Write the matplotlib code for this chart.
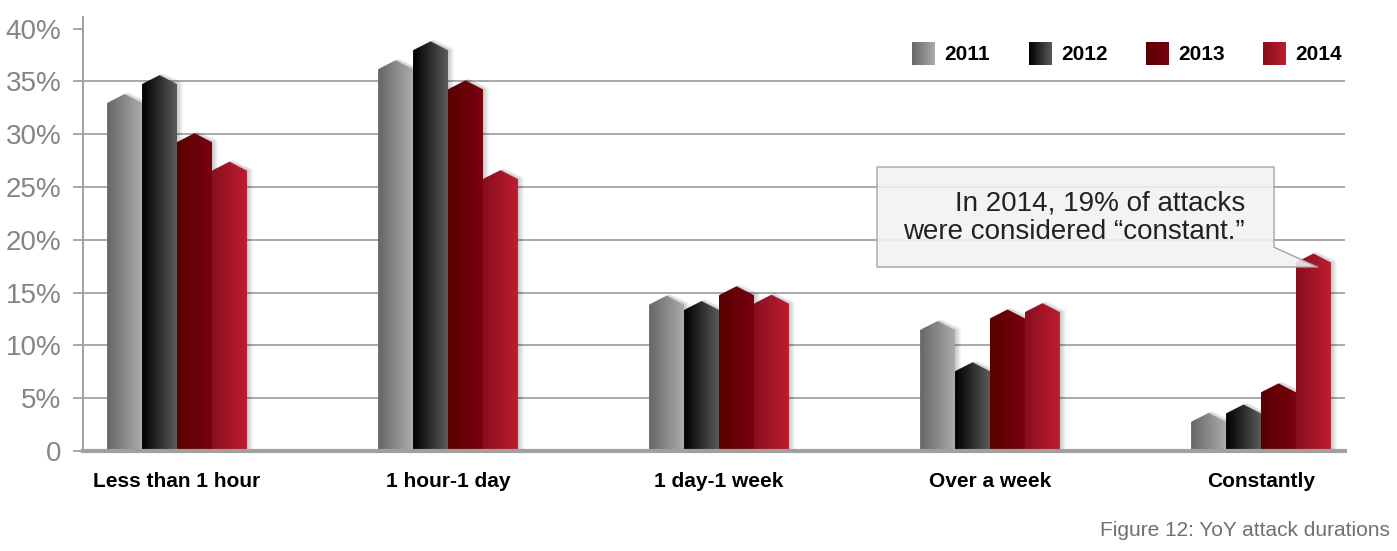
import numpy as np
import matplotlib.pyplot as plt
import matplotlib.colors as mcolors
from matplotlib.patches import Polygon

# values (bar peaks, in %)
categories = ['Less than 1 hour', '1 hour-1 day', '1 day-1 week', 'Over a week', 'Constantly']
years = ['2011', '2012', '2013', '2014']
pct_2011 = [33.8, 37.0, 14.7, 12.3, 3.6]
pct_2012 = [35.6, 38.8, 14.2, 8.4, 4.4]
pct_2013 = [30.1, 35.1, 15.6, 13.4, 6.4]
pct_2014 = [27.4, 26.6, 14.8, 14.0, 18.7]
yticks = [0, 5, 10, 15, 20, 25, 30, 35, 40]
ytick_labels = ['0', '5%', '10%', '15%', '20%', '25%', '30%', '35%', '40%']

series = [pct_2011, pct_2012, pct_2013, pct_2014]
# left -> right colour of each bar's gradient
grad_colors = [('#666666', '#ababab'),
               ('#000000', '#5a5a5a'),
               ('#580000', '#7a0010'),
               ('#880f1f', '#be1d2d')]

plt.rcParams['font.family'] = ['Liberation Sans', 'DejaVu Sans']


def gradient(c0, c1, n=64):
    a = np.array(mcolors.to_rgb(c0))
    b = np.array(mcolors.to_rgb(c1))
    t = np.linspace(0, 1, n)[:, None]
    return (a + (b - a) * t)[None, :, :]


fig = plt.figure(figsize=(13.97, 5.51), dpi=100)
ax = fig.add_axes([0.0594, 0.1815, 0.9034, 0.7875])

w = 0.129      # bar width (group spacing = 1)
cap = 0.85     # height of the pointed top
px = 1 / 271.0  # one pixel in x data units
py = 1 / 10.56  # one pixel in y data units

for j, vals in enumerate(series):
    img = gradient(*grad_colors[j])
    for i, v in enumerate(vals):
        c = i + (j - 1.5) * w
        l, r = c - w / 2, c + w / 2
        s = v - cap
        pts = [(l, 0), (l, s), (c, v), (r, s), (r, 0)]
        # soft shadow, mostly to the right
        for k in range(1, 7):
            e = k * px
            sh = [(l + e * 0.3, 0), (l + e * 0.3, s + k * py * 0.3), (c + e * 0.6, v + k * py * 0.3),
                  (r + e, s + k * py * 0.3), (r + e, 0)]
            ax.add_patch(Polygon(sh, closed=True, facecolor='black', edgecolor='none',
                                 alpha=0.035, zorder=2))
        poly = Polygon(pts, closed=True, transform=ax.transData)
        im = ax.imshow(img, extent=(l, r, 0, v), aspect='auto', interpolation='bilinear',
                       zorder=3)
        im.set_clip_path(poly)

# callout
bx0, bx1, by0, by1 = 2.583, 4.048, 17.42, 26.9
tip_x, tail_y = 4.21, 19.3
callout = Polygon([(bx0, by0), (tip_x, by0), (bx1, tail_y), (bx1, by1), (bx0, by1)],
                  closed=True, facecolor='#f2f2f2', edgecolor='#9a9a9a', lw=1.0,
                  alpha=0.88, zorder=5)
ax.add_patch(callout)
ax.text(3.941, 22.1, 'In 2014, 19% of attacks\nwere considered \u201cconstant.\u201d',
        ha='right', va='center', fontsize=20, color='#222222', linespacing=1.15,
        zorder=6)

# legend
for j, yr in enumerate(years):
    x0 = 0.657 + j * 0.0927
    ax.imshow(gradient(*grad_colors[j]), extent=(x0, x0 + 0.0182, 0.889, 0.940),
              transform=ax.transAxes, aspect='auto', interpolation='bilinear', zorder=4)
    ax.text(x0 + 0.0255, 0.914, yr, transform=ax.transAxes, ha='left', va='center',
            fontsize=15, fontweight='bold', color='black')

ax.set_xlim(-0.347, 4.31)
ax.set_ylim(0, 41.1)

ax.set_yticks(yticks)
ax.set_yticklabels(ytick_labels, fontsize=20, color='#858585')
ax.tick_params(axis='y', direction='out', length=7.5, width=1.3, color='#a0a0a0', pad=8)
ax.set_xticks(range(len(categories)))
ax.set_xticklabels(categories, fontsize=15, fontweight='bold', color='black')
ax.tick_params(axis='x', length=0, pad=15)

ax.set_axisbelow(True)
ax.yaxis.grid(True, color='#a8a8a8', lw=1.4)
ax.get_ygridlines()[-1].set_visible(False)

for sp in ['top', 'right']:
    ax.spines[sp].set_visible(False)
ax.spines['left'].set_color('#a0a0a0')
ax.spines['left'].set_linewidth(1.4)
ax.spines['bottom'].set_color('#a0a0a0')
ax.spines['bottom'].set_linewidth(3)
ax.spines['bottom'].set_zorder(7)

fig.text(0.995, 0.038, 'Figure 12: YoY attack durations', ha='right', va='center',
         fontsize=15, color='#707070')

plt.savefig('out.png', dpi=100)
